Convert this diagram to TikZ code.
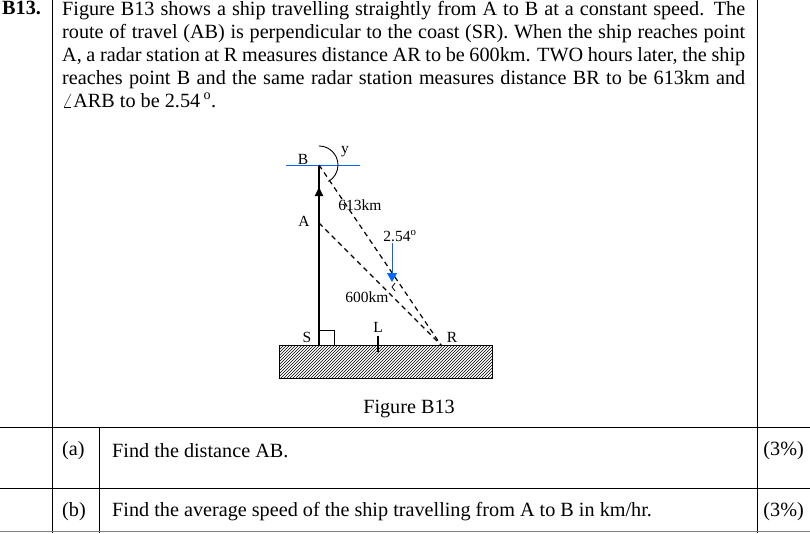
\documentclass[tikz,border=0pt]{standalone}
\usepackage{fontspec}
\setmainfont{Liberation Serif}
\usetikzlibrary{patterns,arrows.meta}
\begin{document}
\begin{tikzpicture}[x=1pt,y=-1pt,
  body/.style={font=\fontsize{20.2}{23}\selectfont,inner sep=0,anchor=north west},
  lbl/.style={font=\fontsize{15.5}{17}\selectfont,inner sep=1pt},
  rule/.style={line width=0.8pt},
  dline/.style={line width=1.2pt,dash pattern=on 5pt off 4pt}]
\useasboundingbox (0,0) rectangle (810,533);
% table
\draw[rule] (52,0) -- (52,533);
\draw[rule] (757,0) -- (757,533);
\draw[rule] (99,427) -- (99,533);
\draw[rule] (0,427) -- (810,427);
\draw[rule] (0,488) -- (810,488);
\draw[rule,gray] (0,531) -- (810,531);
\node[body,font=\bfseries\fontsize{20.2}{23}\selectfont] (q) at (2,1) {B13.};
\node[body,text width=683pt,align=justify] (t) at (62,1) {Figure B13 shows a ship travelling straightly from A to B at a constant speed. The route of travel (AB) is perpendicular to the coast (SR). When the ship reaches point A, a radar station at R measures distance AR to be 600km. TWO hours later, the ship reaches point B and the same radar station measures distance BR to be 613km and $\angle$ARB to be 2.54\,\textsuperscript{o}.};
\node[body,anchor=center] (cap) at (409,409) {Figure B13};
\node[body,anchor=west] (pa) at (62,451) {(a)};
\node[body,anchor=west] (qa) at (112,451) {Find the distance AB.};
\node[body,anchor=east] (ma) at (804,451) {(3\%)};
\node[body,anchor=west] (pb) at (62,512) {(b)};
\node[body,anchor=west] (qb) at (112,512) {Find the average speed of the ship travelling from A to B in km/hr.};
\node[body,anchor=east] (mb) at (804,512) {(3\%)};
% diagram
\coordinate (S) at (319,345);
\coordinate (B) at (319,165);
\coordinate (A) at (319,223);
\coordinate (R) at (441,345);
\draw[line width=0.9pt,pattern=north east lines] (279,345) rectangle (492,378);
\draw[line width=2pt] (S) -- (B);
\draw[-{Triangle[length=9pt,width=8pt]},line width=2pt] (319,215) -- (319,187);
\draw[line width=0.8pt] (319,330) rectangle (334,345);
\draw[line width=1.5pt] (378,336) -- (378,352);
\draw[blue!60!cyan,line width=0.8pt] (286,165) -- (360,165);
\draw[line width=0.9pt] (319,146) arc[start angle=-90,end angle=60,radius=19];
\draw[dline] (B) -- (R);
\draw[dline] (A) -- (R);
\draw[line width=0.8pt] (395,283) -- (392,287) -- (395,291);
\draw[blue!60!cyan,line width=0.8pt,-{Triangle[length=9pt,width=10pt]}] (392,243) -- (392,282);
\node[lbl] (lB) at (303,159) {B};
\node[lbl] (ly) at (345,152) {y};
\node[lbl] (lA) at (304,221) {A};
\node[lbl] (l613) at (360,205) {613km};
\node[lbl] (l254) at (400,236) {2.54\textsuperscript{o}};
\node[lbl] (l600) at (367,297) {600km};
\node[lbl] (lS) at (307,337) {S};
\node[lbl] (lL) at (378,327) {L};
\node[lbl] (lR) at (452,337) {R};
\end{tikzpicture}
\end{document}
